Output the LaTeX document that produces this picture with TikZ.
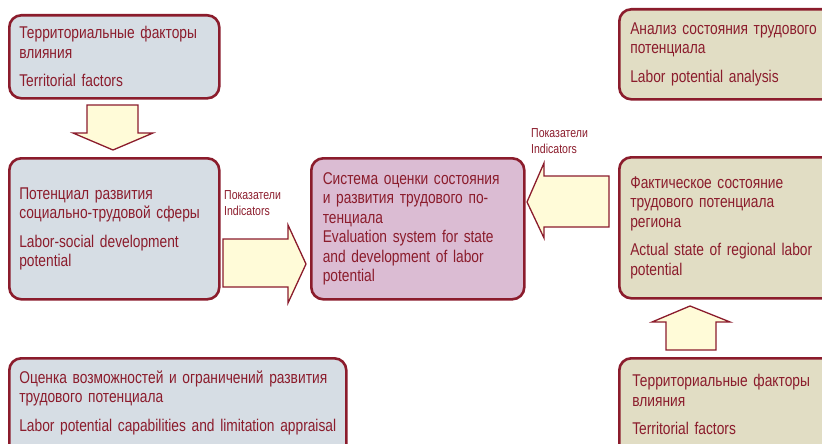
\documentclass[tikz,border=0pt]{standalone}
\usepackage{fontspec}
\setmainfont[FakeStretch=0.81]{Liberation Sans}
\hyphenpenalty=10000
\definecolor{bord}{HTML}{8B1C2C}
\definecolor{txt}{HTML}{8B1C2C}
\definecolor{bluef}{HTML}{D6DDE4}
\definecolor{pinkf}{HTML}{DBBCD3}
\definecolor{beigef}{HTML}{E1DDC4}
\definecolor{arrf}{HTML}{FFFBD8}
\begin{document}
\begin{tikzpicture}[x=1pt,y=-1pt,
  box/.style={draw=bord, line width=2.6pt, rounded corners=12pt, anchor=north west,
    inner xsep=10pt, align=left, text=txt, font=\fontsize{17}{19.5}\selectfont},
  blue/.style={fill=bluef},
  pink/.style={fill=pinkf},
  beige/.style={fill=beigef},
  blk/.style={draw=bord, line width=1.3pt, fill=arrf, line join=miter},
  lbl/.style={text=txt, font=\fontsize{13}{16}\selectfont, align=left, anchor=north west, inner sep=0pt}]
\useasboundingbox (0,0) rectangle (822,444);
\clip (0,0) rectangle (822,444);

\node[box, blue, text width=190pt, minimum width=210pt, minimum height=83pt] (tf1) at (8,14)
  {Территориальные факторы\\влияния\\[9pt]Territorial factors};
\node[box, blue, text width=190pt, minimum width=210pt, minimum height=141pt] (pot) at (8,157)
  {Потенциал развития\\социально-трудовой сферы\\[9pt]Labor-social development\\potential};
\node[box, pink, inner xsep=11pt, text width=190pt, minimum width=213pt, minimum height=141pt] (sys) at (310,157)
  {Система оценки состояния\\и развития трудового по-\\тенциала\\Evaluation system for state\\and development of labor\\potential};
\node[box, beige, inner xsep=11pt, text width=200pt, minimum width=222pt, minimum height=141pt] (act) at (618,156)
  {Фактическое состояние\\трудового потенциала\\региона\\[9pt]Actual state of regional labor\\potential};
\node[box, beige, inner xsep=11pt, text width=200pt, minimum width=222pt, minimum height=90pt] (ana) at (618,8)
  {Анализ состояния трудового\\потенциала\\[9pt]Labor potential analysis};
\node[box, beige, inner xsep=13pt, inner ysep=16pt, text width=200pt, minimum width=222pt] (tf2) at (618,357)
  {Территориальные факторы\\влияния\\[9pt]Territorial factors\\[8pt]\mbox{}};
\node[box, blue, inner xsep=10pt, inner ysep=12.5pt, text width=317pt, minimum width=337pt] (cap) at (8,357)
  {Оценка возможностей и ограничений развития\\трудового потенциала\\[9pt]\makebox[0pt][l]{Labor potential capabilities and limitation appraisal}\\[8pt]\mbox{}};

% block arrows
\draw[blk] (87,105) -- (138,105) -- (138,133) -- (153,133) -- (113,150) -- (73,133) -- (87,133) -- cycle;
\draw[blk] (223,239) -- (288,239) -- (288,225) -- (306,264) -- (288,303) -- (288,287) -- (223,287) -- cycle;
\draw[blk] (609,176) -- (544,176) -- (544,163) -- (527,202) -- (544,238) -- (544,227) -- (609,227) -- cycle;
\draw[blk] (666,350) -- (666,322) -- (652,322) -- (690,306) -- (730,322) -- (716,322) -- (716,350) -- cycle;

\node[lbl] (l1) at (224,190) {Показатели\\Indicators};
\node[lbl] (l2) at (531,128) {Показатели\\Indicators};
\end{tikzpicture}
\end{document}
